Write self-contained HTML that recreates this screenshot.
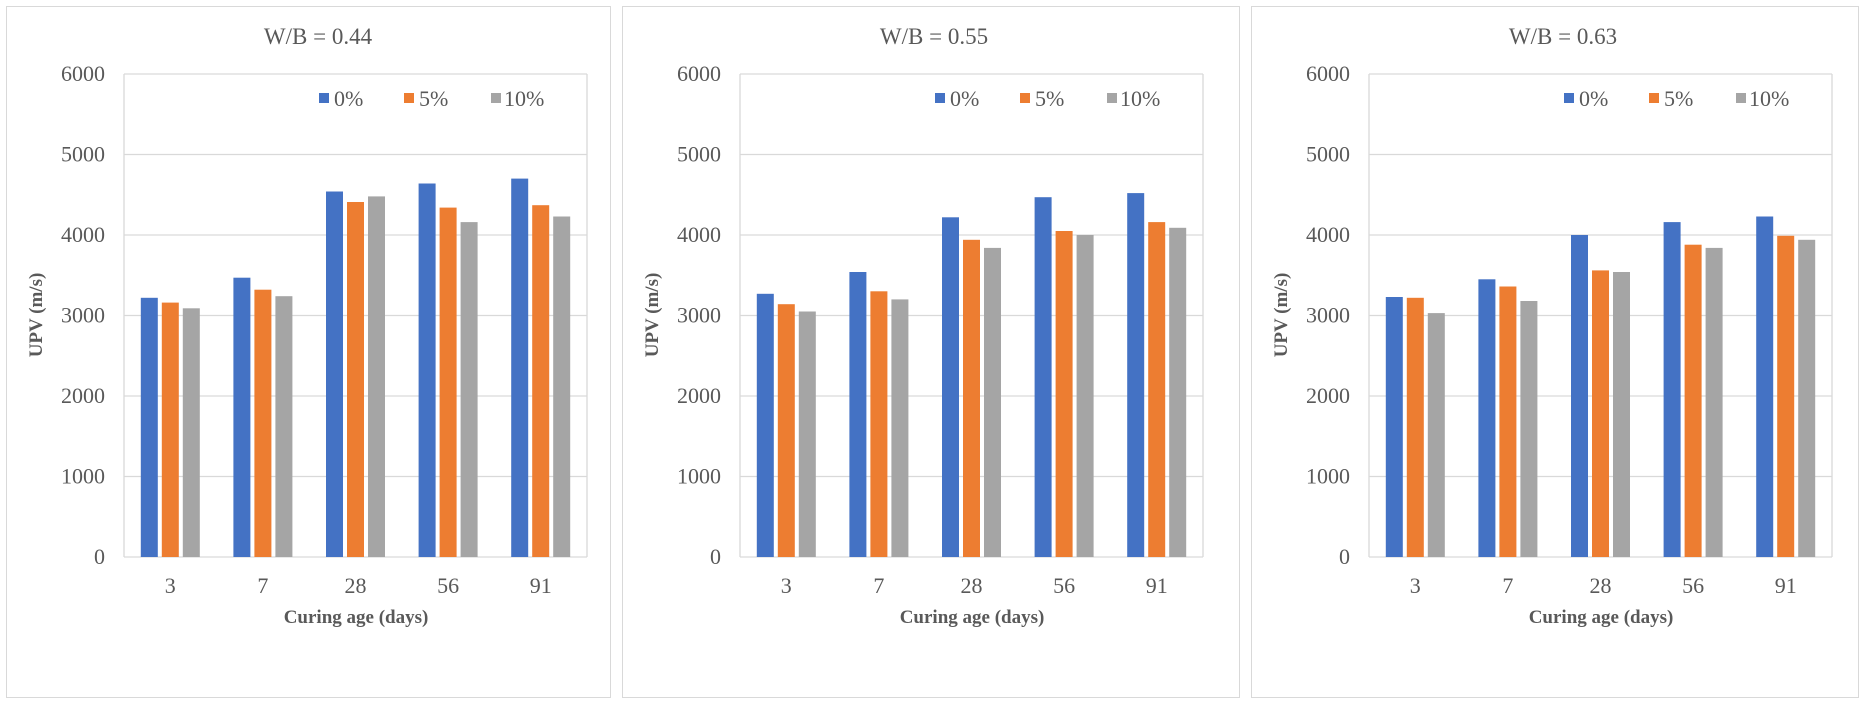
<!DOCTYPE html>
<html><head><meta charset="utf-8"><style>
html,body{margin:0;padding:0;background:#fff;}
svg{display:block;font-family:"Liberation Serif",serif;}
.t{font-size:23px;fill:#595959;text-anchor:middle;}
.yl{font-size:22px;fill:#595959;text-anchor:end;}
.xl{font-size:22px;fill:#595959;text-anchor:middle;}
.at{font-size:19px;font-weight:bold;fill:#595959;text-anchor:middle;}
.lg{font-size:22px;fill:#595959;}
.g{stroke:#d9d9d9;stroke-width:1.3;}
.b{fill:#4472C4}.o{fill:#ED7D31}.r{fill:#A5A5A5}
</style></head><body>
<svg width="1864" height="705" viewBox="0 0 1864 705">
<rect x="0" y="0" width="1864" height="705" fill="#fff"/>
<rect x="6.5" y="6.5" width="604" height="691" fill="none" stroke="#d9d9d9"/>
<rect x="622.5" y="6.5" width="617" height="691" fill="none" stroke="#d9d9d9"/>
<rect x="1251.5" y="6.5" width="607" height="691" fill="none" stroke="#d9d9d9"/>

<defs>
<g id="axes">
<line class="g" x1="124" x2="587" y1="74" y2="74"/>
<line class="g" x1="124" x2="587" y1="154.5" y2="154.5"/>
<line class="g" x1="124" x2="587" y1="235" y2="235"/>
<line class="g" x1="124" x2="587" y1="315.5" y2="315.5"/>
<line class="g" x1="124" x2="587" y1="396" y2="396"/>
<line class="g" x1="124" x2="587" y1="476.5" y2="476.5"/>
<line class="g" x1="124" x2="587" y1="557" y2="557"/>
<line class="g" x1="124" x2="124" y1="74" y2="557"/>
<line class="g" x1="587" x2="587" y1="74" y2="557"/>
<rect x="319" y="93" width="10" height="10" class="b"/>
<rect x="404" y="93" width="10" height="10" class="o"/>
<rect x="491" y="93" width="10" height="10" class="r"/>
</g>
</defs>

<!-- Panel 1 -->
<g>
<use href="#axes"/>
<text class="t" x="318" y="44">W/B = 0.44</text>
<text class="lg" x="334" y="106">0%</text><text class="lg" x="419" y="106">5%</text><text class="lg" x="504" y="106">10%</text>
<text class="yl" x="105" y="81">6000</text><text class="yl" x="105" y="161.5">5000</text><text class="yl" x="105" y="242">4000</text><text class="yl" x="105" y="322.5">3000</text><text class="yl" x="105" y="403">2000</text><text class="yl" x="105" y="483.5">1000</text><text class="yl" x="105" y="564">0</text>
<text class="xl" x="170.3" y="593">3</text><text class="xl" x="262.9" y="593">7</text><text class="xl" x="355.5" y="593">28</text><text class="xl" x="448.1" y="593">56</text><text class="xl" x="540.7" y="593">91</text>
<text class="at" x="356" y="623">Curing age (days)</text>
<text class="at" transform="translate(42,315) rotate(-90)">UPV (m/s)</text>
<rect class="b" x="140.8" y="297.8" width="17" height="259.2"/><rect class="o" x="161.8" y="302.6" width="17" height="254.4"/><rect class="r" x="182.8" y="308.3" width="17" height="248.7"/>
<rect class="b" x="233.4" y="277.7" width="17" height="279.3"/><rect class="o" x="254.4" y="289.7" width="17" height="267.3"/><rect class="r" x="275.4" y="296.2" width="17" height="260.8"/>
<rect class="b" x="326" y="191.5" width="17" height="365.5"/><rect class="o" x="347" y="202" width="17" height="355"/><rect class="r" x="368" y="196.4" width="17" height="360.6"/>
<rect class="b" x="418.6" y="183.5" width="17" height="373.5"/><rect class="o" x="439.6" y="207.6" width="17" height="349.4"/><rect class="r" x="460.6" y="222.1" width="17" height="334.9"/>
<rect class="b" x="511.2" y="178.6" width="17" height="378.4"/><rect class="o" x="532.2" y="205.2" width="17" height="351.8"/><rect class="r" x="553.2" y="216.5" width="17" height="340.5"/>
</g>

<!-- Panel 2 -->
<g transform="translate(616,0)">
<use href="#axes"/>
<text class="t" x="318" y="44">W/B = 0.55</text>
<text class="lg" x="334" y="106">0%</text><text class="lg" x="419" y="106">5%</text><text class="lg" x="504" y="106">10%</text>
<text class="yl" x="105" y="81">6000</text><text class="yl" x="105" y="161.5">5000</text><text class="yl" x="105" y="242">4000</text><text class="yl" x="105" y="322.5">3000</text><text class="yl" x="105" y="403">2000</text><text class="yl" x="105" y="483.5">1000</text><text class="yl" x="105" y="564">0</text>
<text class="xl" x="170.3" y="593">3</text><text class="xl" x="262.9" y="593">7</text><text class="xl" x="355.5" y="593">28</text><text class="xl" x="448.1" y="593">56</text><text class="xl" x="540.7" y="593">91</text>
<text class="at" x="356" y="623">Curing age (days)</text>
<text class="at" transform="translate(42,315) rotate(-90)">UPV (m/s)</text>
<rect class="b" x="140.8" y="293.8" width="17" height="263.2"/><rect class="o" x="161.8" y="304.2" width="17" height="252.8"/><rect class="r" x="182.8" y="311.5" width="17" height="245.5"/>
<rect class="b" x="233.4" y="272" width="17" height="285"/><rect class="o" x="254.4" y="291.3" width="17" height="265.7"/><rect class="r" x="275.4" y="299.4" width="17" height="257.6"/>
<rect class="b" x="326" y="217.3" width="17" height="339.7"/><rect class="o" x="347" y="239.8" width="17" height="317.2"/><rect class="r" x="368" y="247.9" width="17" height="309.1"/>
<rect class="b" x="418.6" y="197.2" width="17" height="359.8"/><rect class="o" x="439.6" y="231" width="17" height="326"/><rect class="r" x="460.6" y="235" width="17" height="322"/>
<rect class="b" x="511.2" y="193.1" width="17" height="363.9"/><rect class="o" x="532.2" y="222.1" width="17" height="334.9"/><rect class="r" x="553.2" y="227.8" width="17" height="329.2"/>
</g>

<!-- Panel 3 -->
<g transform="translate(1245,0)">
<use href="#axes"/>
<text class="t" x="318" y="44">W/B = 0.63</text>
<text class="lg" x="334" y="106">0%</text><text class="lg" x="419" y="106">5%</text><text class="lg" x="504" y="106">10%</text>
<text class="yl" x="105" y="81">6000</text><text class="yl" x="105" y="161.5">5000</text><text class="yl" x="105" y="242">4000</text><text class="yl" x="105" y="322.5">3000</text><text class="yl" x="105" y="403">2000</text><text class="yl" x="105" y="483.5">1000</text><text class="yl" x="105" y="564">0</text>
<text class="xl" x="170.3" y="593">3</text><text class="xl" x="262.9" y="593">7</text><text class="xl" x="355.5" y="593">28</text><text class="xl" x="448.1" y="593">56</text><text class="xl" x="540.7" y="593">91</text>
<text class="at" x="356" y="623">Curing age (days)</text>
<text class="at" transform="translate(42,315) rotate(-90)">UPV (m/s)</text>
<rect class="b" x="140.8" y="297" width="17" height="260"/><rect class="o" x="161.8" y="297.8" width="17" height="259.2"/><rect class="r" x="182.8" y="313.1" width="17" height="243.9"/>
<rect class="b" x="233.4" y="279.3" width="17" height="277.7"/><rect class="o" x="254.4" y="286.5" width="17" height="270.5"/><rect class="r" x="275.4" y="301" width="17" height="256"/>
<rect class="b" x="326" y="235" width="17" height="322"/><rect class="o" x="347" y="270.4" width="17" height="286.6"/><rect class="r" x="368" y="272" width="17" height="285"/>
<rect class="b" x="418.6" y="222.1" width="17" height="334.9"/><rect class="o" x="439.6" y="244.7" width="17" height="312.3"/><rect class="r" x="460.6" y="247.9" width="17" height="309.1"/>
<rect class="b" x="511.2" y="216.5" width="17" height="340.5"/><rect class="o" x="532.2" y="235.8" width="17" height="321.2"/><rect class="r" x="553.2" y="239.8" width="17" height="317.2"/>
</g>
</svg>
</body></html>
